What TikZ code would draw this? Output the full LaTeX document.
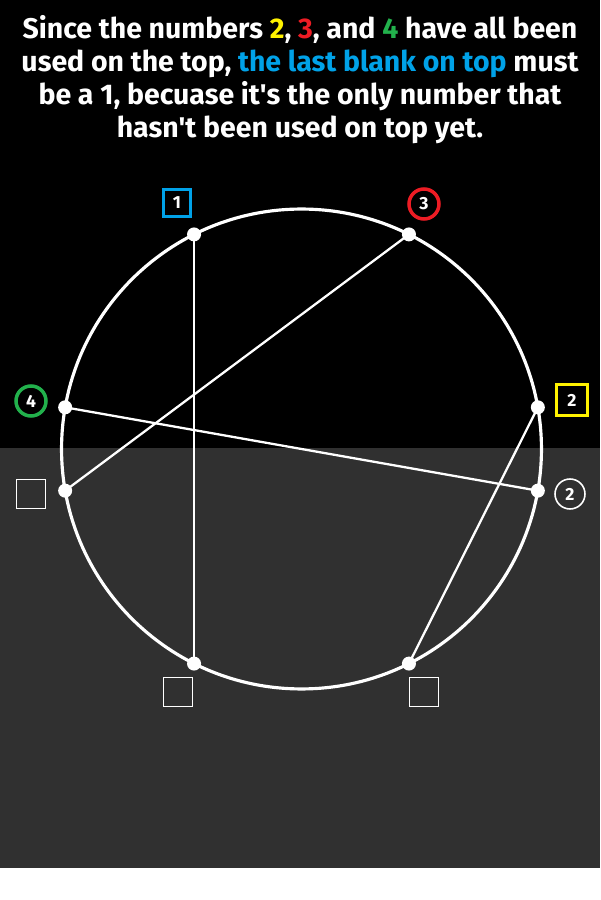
\documentclass[tikz,border=0pt]{standalone}
\usepackage{fontspec}
\setmainfont{Fira Sans}
\usetikzlibrary{positioning,calc}
\definecolor{PaintYellow}{RGB}{255,242,0}
\definecolor{PaintRed}{RGB}{237,28,36}
\definecolor{PaintGreen}{RGB}{34,177,76}
\definecolor{PaintBlue}{RGB}{0,162,232}
\definecolor{PanelGray}{RGB}{48,48,48}
\tikzset{
  v/.style={circle,fill=white,inner sep=0pt,minimum size=0.28cm},
  chord/.style={draw=white,line width=1.3pt},
  ring/.style={draw=white,line width=1.8pt},
  tag/.style={text=white,font=\bfseries\fontsize{10}{10}\selectfont,inner sep=0pt},
  sqtag/.style={tag,draw,rectangle,line width=2.2pt,minimum size=0.54cm},
  rdtag/.style={tag,draw,circle,line width=2pt,minimum size=0.6cm},
  blank/.style={draw=white,line width=0.9pt,minimum size=0.58cm,inner sep=0pt},
}

\begin{document}
\begin{tikzpicture}[x=0.02cm,y=0.02cm]
\useasboundingbox (0,0) rectangle (600,900);
\fill[white] (0,0) rectangle (600,900);
\fill[black] (0,452) rectangle (600,900);
\fill[PanelGray] (0,32) rectangle (600,452);
\node[text=white,font=\bfseries\fontsize{16.2}{18.8}\selectfont,align=center] (msg) at (300,820)
  {Since the numbers {\color{PaintYellow}2}, {\color{PaintRed}3}, and {\color{PaintGreen}4} have all been\\
   used on the top, {\color{PaintBlue}the last blank on top} must\\
   be a 1, becuase it\textquotesingle s the only number that\\
   hasn\textquotesingle t been used on top yet.};
\coordinate (o) at (301.5,451);
\draw[ring] (o) circle [radius=4.8cm];
\path (o) ++(116.6:240) coordinate (p1);
\path (o) ++(63.4:240) coordinate (p2);
\path (o) ++(170:240) coordinate (p3);
\path (o) ++(10:240) coordinate (p4);
\path (o) ++(190:240) coordinate (p5);
\path (o) ++(350:240) coordinate (p6);
\path (o) ++(243.4:240) coordinate (p7);
\path (o) ++(296.6:240) coordinate (p8);
\draw[chord] (p1) -- (p7);
\draw[chord] (p2) -- (p5);
\draw[chord] (p3) -- (p6);
\draw[chord] (p4) -- (p8);
\node[v] at (p1) {};
\node[v] at (p2) {};
\node[v] at (p3) {};
\node[v] at (p4) {};
\node[v] at (p5) {};
\node[v] at (p6) {};
\node[v] at (p7) {};
\node[v] at (p8) {};
% clues round the ring
\node[sqtag,draw=PaintBlue] (t1) at (177,697) {1};
\node[rdtag,draw=PaintRed] (t3) at (424,696) {3};
\node[rdtag,draw=PaintGreen] (t4) at (31,499) {4};
\node[sqtag,draw=PaintYellow,minimum size=0.62cm] (t2) at (572,500) {2};
\node[rdtag,draw=white,line width=0.9pt] (b2) at (570,406) {2};
\node[blank] (s1) at (31,406) {};
\node[blank] (s2) at (178,208) {};
\node[blank] (s3) at (424,208) {};
\end{tikzpicture}
\end{document}
